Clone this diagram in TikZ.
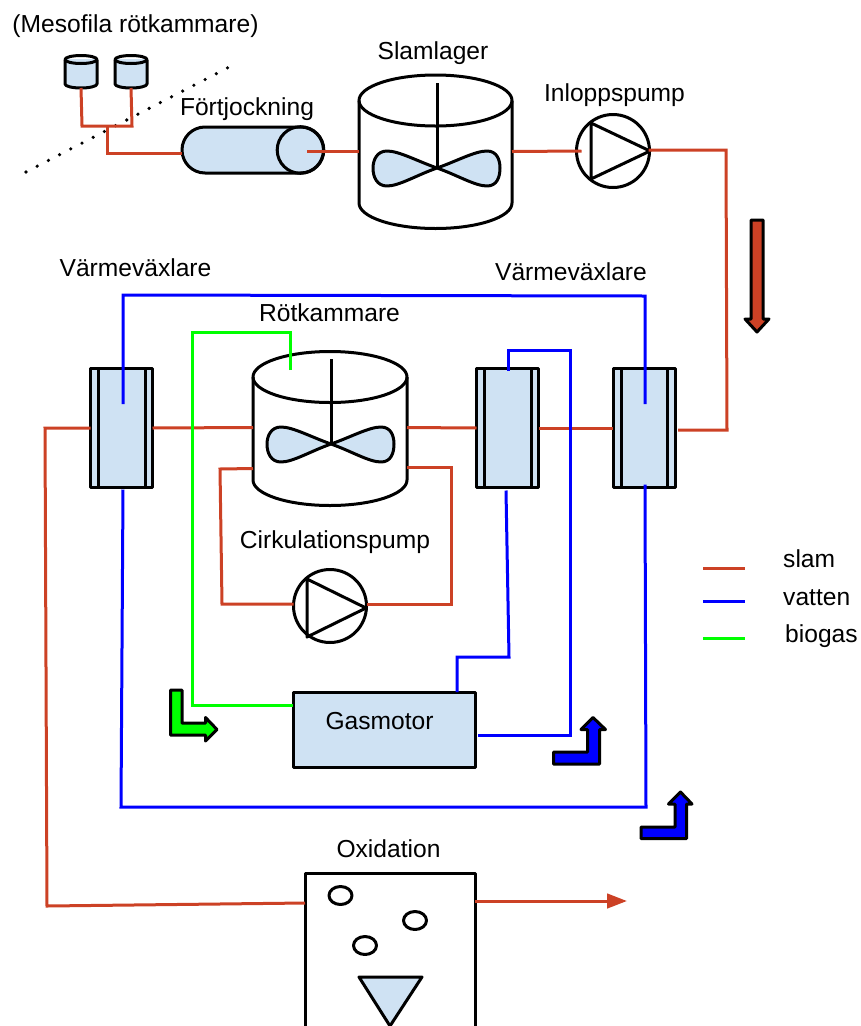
\documentclass[tikz,border=0pt]{standalone}
\usepackage{fontspec}
\setmainfont{Liberation Sans}
\usetikzlibrary{arrows.meta}
\definecolor{slamc}{HTML}{CC4125}
\definecolor{paleblue}{HTML}{CFE2F3}
\definecolor{vattenc}{HTML}{0000FF}
\definecolor{biogasc}{HTML}{00FF00}
\tikzset{
  x=1pt,y=-1pt,
  outline/.style={draw=black,line width=3pt,line join=round},
  slam/.style={draw=slamc,line width=3pt,line join=miter},
  vatten/.style={draw=vattenc,line width=3pt,line join=miter},
  biogas/.style={draw=biogasc,line width=3pt,line join=miter},
  txt/.style={font=\fontsize{24.6}{29}\selectfont,inner sep=0pt,text=black,anchor=base},
  anchorbox/.style={rectangle,inner sep=0pt,outer sep=0pt,minimum width=#1},
  hx/.style={rectangle,outline,fill=paleblue,inner sep=0pt,outer sep=0pt,minimum width=62pt,minimum height=119pt},
  pumpc/.style={circle,outline,inner sep=0pt,outer sep=0pt,minimum size=73pt},
  bubble/.style={outline,fill=white},
  flowarrow/.style={outline,line width=3pt},
}
% cx, y of the top ellipse centre, rx, ry, y where the side ends
\newcommand{\vesseldraw}[5]{%
  \draw[outline] (#1-#3,#2) -- (#1-#3,#5) arc[start angle=180,end angle=360,x radius=#3pt,y radius=#4pt] -- (#1+#3,#2);
  \draw[outline] (#1,#2) ellipse[x radius=#3pt,y radius=#4pt];
}
\newcommand{\impellerdraw}[2]{%
  \begin{scope}[shift={(#1,#2)}]
  \draw[outline,fill=paleblue] (0,0) .. controls (-20,-7) and (-38,-17) .. (-50,-17) .. controls (-60,-17) and (-64,-8) .. (-64,0) .. controls (-64,9) and (-60,18) .. (-50,18) .. controls (-38,18) and (-20,7) .. (0,0)
   .. controls (20,-7) and (38,-17) .. (50,-17) .. controls (60,-17) and (63,-8) .. (63,0) .. controls (63,9) and (60,18) .. (50,18) .. controls (38,18) and (20,7) .. (0,0) -- cycle;
  \end{scope}
}
\begin{document}
\begin{tikzpicture}
\useasboundingbox (0,0) rectangle (861,1026);
\clip (0,0) rectangle (861,1026);

% ---------- labels
\node[txt] (lmeso) at (135.5,32.5) {(Mesofila rötkammare)};
\node[txt] (lslam) at (433,59) {Slamlager};
\node[txt] (lfort) at (247,115) {Förtjockning};
\node[txt] (linl) at (614.5,101) {Inloppspump};
\node[txt] (lvv1) at (135.5,276) {Värmeväxlare};
\node[txt] (lvv2) at (571,280) {Värmeväxlare};
\node[txt] (lrot) at (329.5,321.5) {Rötkammare};
\node[txt] (lcirk) at (335,548) {Cirkulationspump};
\node[txt] (lox) at (388.5,857) {Oxidation};
\node[txt,anchor=base west] (lslamleg) at (783,567) {slam};
\node[txt,anchor=base west] (lvatleg) at (783,605) {vatten};
\node[txt,anchor=base west] (lbioleg) at (785,642) {biogas};

% ---------- dotted boundary
\coordinate (dota) at (26,172);
\coordinate (dotb) at (237,63);
\draw[black,line width=3.6pt,line cap=round,dash pattern=on 0pt off 12.6pt] (dota) -- (dotb);

% ---------- small digesters
\node[anchorbox=32pt,minimum height=33pt] (smalla) at (81,71.5) {};
\node[anchorbox=32pt,minimum height=33pt] (smallb) at (131,71.5) {};
\fill[paleblue] (65,59) rectangle (97,85);
\fill[paleblue] (115,59) rectangle (147,85);
\fill[paleblue] (81,84) ellipse[x radius=16pt,y radius=4pt];
\fill[paleblue] (131,84) ellipse[x radius=16pt,y radius=4pt];
\vesseldraw{81}{59.5}{16}{4}{84}
\vesseldraw{131}{59.5}{16}{4}{84}

% ---------- thickener
\node[anchorbox=142pt,minimum height=46pt] (fort) at (253,150) {};
\draw[outline,fill=paleblue] (205,127) -- (300.5,127) arc[start angle=90,end angle=-90,radius=23pt] -- (205,173) arc[start angle=270,end angle=90,radius=23pt] -- cycle;
\draw[outline] (300.5,150) circle[radius=23.3pt];

% ---------- sludge store
\node[anchorbox=153pt,minimum height=153pt] (slamlager) at (435.5,151.5) {};
\vesseldraw{435.5}{100.5}{76.5}{25.5}{203}
\draw[outline] (437,83) -- (437,168);
\impellerdraw{437}{168}

% ---------- inlet pump
\node[pumpc] (pumpa) at (613,151) {};
\draw[outline] (591,123) -- (591,179) -- (650,151) -- cycle;

% ---------- heat exchangers
\node[hx] (hxa) at (121.5,428) {};
\draw[outline] (98,368) -- (98,488) (145,368) -- (145,488);
\node[hx] (hxb) at (507.5,428) {};
\draw[outline] (484,368) -- (484,488) (531,368) -- (531,488);
\node[hx] (hxc) at (644,428) {};
\draw[outline] (621,368) -- (621,488) (667,368) -- (667,488);

% ---------- digester
\node[anchorbox=154pt,minimum height=153pt] (rot) at (330,427.5) {};
\vesseldraw{330}{377}{77}{25.5}{480}
\draw[outline] (331,359) -- (331,444);
\impellerdraw{331}{444}

% ---------- circulation pump
\node[pumpc] (pumpb) at (330,606) {};
\draw[outline] (307,579) -- (307,637) -- (366,608) -- cycle;

% ---------- gas engine
\node[rectangle,outline,fill=paleblue,inner sep=0pt,outer sep=0pt,minimum width=182pt,minimum height=75pt] (gas) at (384,729.5) {};
\node[txt] (lgas) at (379.5,729.5) {Gasmotor};

% ---------- oxidation basin
\node[rectangle,outline,inner sep=0pt,outer sep=0pt,minimum width=170pt,minimum height=154pt] (ox) at (390,950) {};
\draw[bubble] (340.5,895.5) ellipse[x radius=11.5pt,y radius=9pt];
\draw[bubble] (415,920.5) ellipse[x radius=11.5pt,y radius=9pt];
\draw[bubble] (365,945.5) ellipse[x radius=11.5pt,y radius=9pt];
\draw[outline,fill=paleblue] (359,977) -- (422,977) -- (390,1026) -- cycle;

% ---------- sludge lines
\draw[slam] (smalla.south) -- ++(1,38) -- ++(50,0) -- (smallb.south);
\coordinate (tee) at (107,127);
\draw[slam] (tee) |- ([yshift=-3pt]fort.west);
\draw[slam] ([xshift=-17pt,yshift=-1.5pt]fort.east) -- ([yshift=0pt]slamlager.west);
\draw[slam] (slamlager.east) -- ([xshift=5pt]pumpa.west);
\coordinate (kneea) at (726,150);
\coordinate (kneeb) at (727,430);
\draw[slam] ([xshift=-1pt,yshift=1pt]pumpa.east) -- (kneea) -- (kneeb) -- ([xshift=3pt,yshift=-2pt]hxc.east);
\draw[slam] (hxb.east) -- (hxc.west);
\draw[slam] (rot.east) -- (hxb.west);
\draw[slam] (hxa.east) -- (rot.west);
\coordinate (outa) at (45,428);
\coordinate (outb) at (47,906);
\draw[slam] (hxa.west) -- (outa) -- (outb) -- ([yshift=47pt]ox.west);
\coordinate (effl) at (627,901);
\draw[slam,-{Triangle[length=20pt,width=14.5pt]}] ([yshift=49pt]ox.east) -- (effl);
\coordinate (circa) at (220,469);
\coordinate (circb) at (222,604);
\draw[slam] ([yshift=-41pt]rot.west) -- (circa) -- (circb) -- ([yshift=2pt]pumpb.west);
\coordinate (circc) at (451,467);
\coordinate (circd) at (451,604);
\draw[slam] ([yshift=-39.5pt]rot.east) -- (circc) -- (circd) -- ([yshift=2pt]pumpb.east);

% ---------- water lines
\coordinate (bluea) at (123,404);
\coordinate (blueb) at (123,295);
\coordinate (bluec) at (645,296);
\coordinate (blued) at (645,404);
\draw[vatten] (bluea) -- (blueb) -- (bluec) -- (blued);
\coordinate (bluee) at (121,807);
\coordinate (bluef) at (646,807);
\draw[vatten] ([xshift=1.5pt,yshift=-2pt]hxa.south) -- (bluee) -- (bluef) -- ([xshift=1pt,yshift=3pt]hxc.south);
\coordinate (blueg) at (508,350);
\coordinate (blueh) at (570,350);
\coordinate (bluei) at (570,735);
\draw[vatten] ([xshift=0.5pt,yshift=-2pt]hxb.north) -- (blueg) -- (blueh) -- (bluei) -- ([xshift=3pt,yshift=-5.5pt]gas.east);
\coordinate (bluej) at (509,657);
\coordinate (bluek) at (457,657);
\draw[vatten] ([xshift=-1.5pt,yshift=-3pt]hxb.south) -- (bluej) -- (bluek) -- ([xshift=73pt]gas.north);

% ---------- biogas line
\coordinate (grna) at (290.5,370);
\coordinate (grnb) at (290.5,332);
\coordinate (grnc) at (192,332);
\coordinate (grnd) at (192,705);
\draw[biogas] (grna) -- (grnb) -- (grnc) -- (grnd) -- ([yshift=24.5pt]gas.west);

% ---------- flow arrows
\draw[flowarrow,fill=slamc] (751,220) -- (763,220) -- (763,319) -- (769,319) -- (757,332) -- (745,319) -- (751,319) -- cycle;
\draw[flowarrow,fill=biogasc] (170.5,690) -- (182,690) -- (182,723) -- (205.5,723) -- (205.5,717.5) -- (217,729.5) -- (205.5,741) -- (205.5,735) -- (170.5,735) -- cycle;
\draw[flowarrow,fill=vattenc] (553.5,752) -- (587.5,752) -- (587.5,729.5) -- (581,729.5) -- (593,717.5) -- (605.5,729.5) -- (599.5,729.5) -- (599.5,764) -- (553.5,764) -- cycle;
\draw[flowarrow,fill=vattenc] (641,827) -- (675,827) -- (675,804) -- (668.5,804) -- (680.5,792) -- (692,804) -- (686.5,804) -- (686.5,838.5) -- (641,838.5) -- cycle;

% ---------- legend
\coordinate (lega) at (703,568);
\coordinate (legb) at (745,568);
\coordinate (legc) at (703,601);
\coordinate (legd) at (745,601);
\coordinate (lege) at (703,638);
\coordinate (legf) at (745,638);
\draw[slam] (lega) -- (legb);
\draw[vatten] (legc) -- (legd);
\draw[biogas] (lege) -- (legf);
\end{tikzpicture}
\end{document}
